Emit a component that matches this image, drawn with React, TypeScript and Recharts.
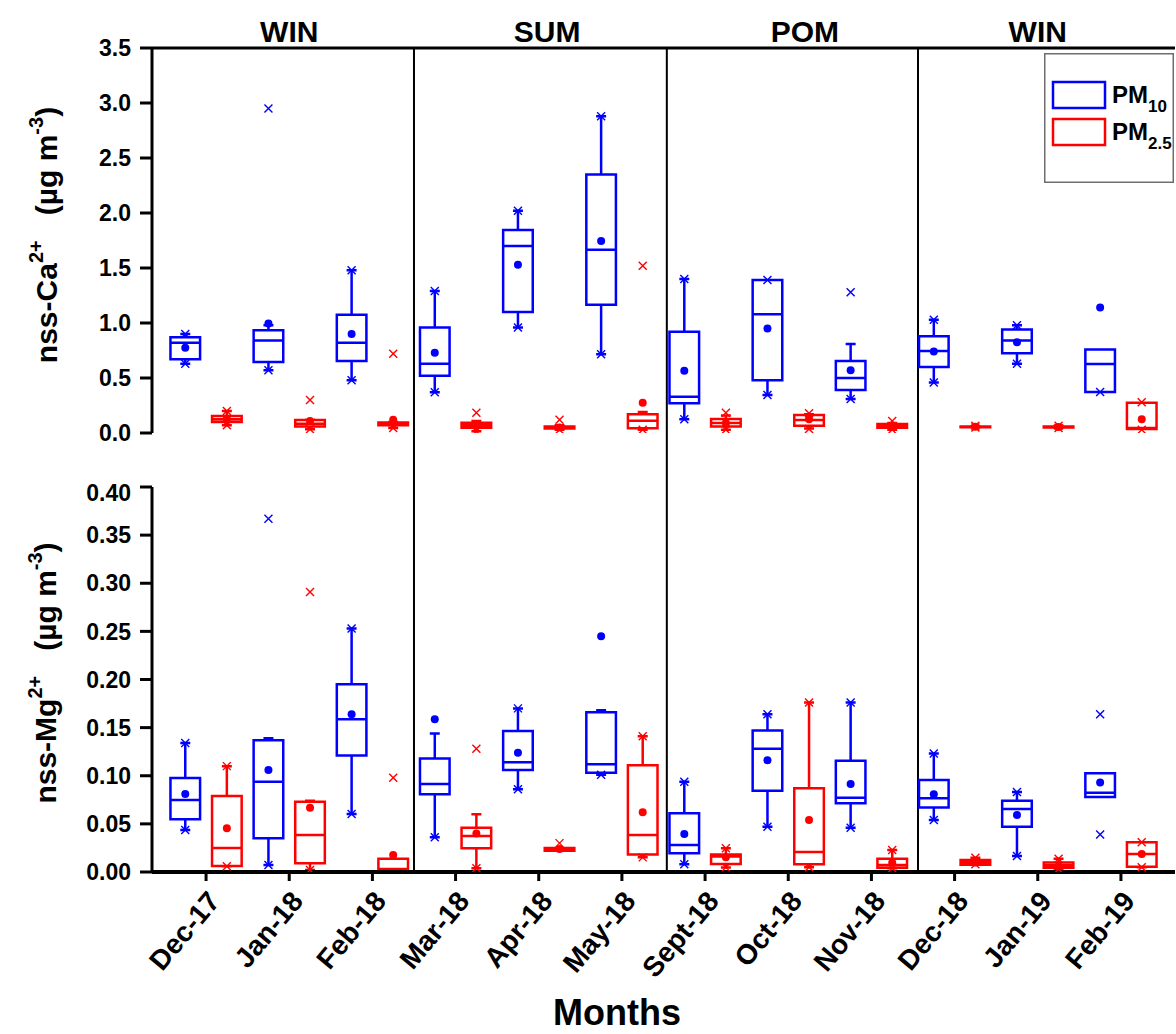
import React from "react";
import { ComposedChart, Line, Scatter, XAxis, YAxis, ReferenceLine, Legend } from "recharts";

const months = ["Dec-17", "Jan-18", "Feb-18", "Mar-18", "Apr-18", "May-18", "Sept-18", "Oct-18", "Nov-18", "Dec-18", "Jan-19", "Feb-19"];
const seasons = ["WIN", "SUM", "POM", "WIN"];
// where the season titles sit, and the borders between seasons (month index units)
const seasonCenters = [1.0, 4.1, 7.2, 10.0];
const seasonBreaks = [2.5, 5.54, 8.56];

// box stats per month: [low whisker, Q1, median, Q3, high whisker]
const caPM10 = [
  [0.63, 0.67, 0.82, 0.87, 0.9], [0.57, 0.645, 0.84, 0.935, 0.98], [0.48, 0.655, 0.82, 1.075, 1.48],
  [0.37, 0.52, 0.63, 0.96, 1.29], [0.96, 1.1, 1.7, 1.845, 2.02], [0.715, 1.165, 1.665, 2.35, 2.88],
  [0.125, 0.27, 0.33, 0.92, 1.4], [0.345, 0.48, 1.08, 1.39, 1.39], [0.31, 0.39, 0.5, 0.655, 0.81],
  [0.46, 0.6, 0.745, 0.88, 1.03], [0.63, 0.725, 0.84, 0.94, 0.98], [0.373, 0.373, 0.627, 0.76, 0.76],
];
const caPM10Mean = [0.775, 0.995, 0.9, 0.73, 1.53, 1.745, 0.565, 0.95, 0.57, 0.74, 0.825, 1.14];
const caPM10Cross = [[0.63, 0.9], [0.57, 2.95], [0.48, 1.48], [0.37, 1.29], [0.96, 2.02], [0.715, 2.88], [0.125, 1.4], [0.345, 1.39], [0.31, 1.28], [0.46, 1.03], [0.63, 0.98], [0.373]];

const caPM25 = [
  [0.07, 0.1, 0.125, 0.155, 0.2], [0.035, 0.058, 0.085, 0.118, 0.12], [0.045, 0.07, 0.08, 0.095, 0.1],
  [0.015, 0.048, 0.07, 0.094, 0.11], [0.03, 0.04, 0.05, 0.06, 0.07], [0.03, 0.043, 0.112, 0.17, 0.19],
  [0.03, 0.058, 0.09, 0.127, 0.16], [0.04, 0.067, 0.118, 0.164, 0.17], [0.03, 0.048, 0.065, 0.082, 0.09],
  [0.05, 0.052, 0.056, 0.06, 0.062], [0.045, 0.05, 0.055, 0.06, 0.065], [0.036, 0.036, 0.045, 0.275, 0.275],
];
const caPM25Mean = [0.13, 0.11, 0.12, 0.07, 0.05, 0.275, 0.09, 0.125, 0.065, 0.056, 0.055, 0.125];
const caPM25Cross = [[0.07, 0.2], [0.035, 0.3], [0.045, 0.72], [0.015, 0.185], [0.03, 0.12], [0.03, 1.52], [0.03, 0.185], [0.036, 0.18], [0.03, 0.11], [0.05, 0.065], [0.045, 0.065], [0.03, 0.28]];

const mgPM10 = [
  [0.0436, 0.0547, 0.0748, 0.0977, 0.134], [0.0073, 0.035, 0.0938, 0.137, 0.139], [0.0603, 0.121, 0.1586, 0.195, 0.253],
  [0.036, 0.0807, 0.0914, 0.118, 0.144], [0.086, 0.106, 0.114, 0.1465, 0.17], [0.101, 0.103, 0.112, 0.166, 0.168],
  [0.008, 0.0194, 0.028, 0.061, 0.0938], [0.047, 0.0845, 0.128, 0.147, 0.164], [0.046, 0.0713, 0.0772, 0.1157, 0.176],
  [0.054, 0.067, 0.0765, 0.0956, 0.123], [0.0166, 0.047, 0.0655, 0.074, 0.083], [0.078, 0.078, 0.0824, 0.1025, 0.1025],
];
const mgPM10Mean = [0.081, 0.106, 0.164, 0.1586, 0.124, 0.245, 0.0395, 0.116, 0.0914, 0.0807, 0.0592, 0.093];
const mgPM10Cross = [[0.0436, 0.134], [0.0073, 0.367], [0.0603, 0.253], [0.036], [0.086, 0.17], [0.101], [0.008, 0.0938], [0.047, 0.164], [0.046, 0.176], [0.054, 0.123], [0.0166, 0.083], [0.039, 0.164]];

const mgPM25 = [
  [0.006, 0.0062, 0.025, 0.079, 0.11], [0.002, 0.009, 0.0384, 0.073, 0.074], [0.002, 0.002, 0.003, 0.0138, 0.0138],
  [0.004, 0.0246, 0.0374, 0.046, 0.06], [0.022, 0.022, 0.0235, 0.025, 0.025], [0.0152, 0.0183, 0.0384, 0.111, 0.141],
  [0.0048, 0.0083, 0.016, 0.0183, 0.0246], [0.005, 0.008, 0.0208, 0.087, 0.176], [0.004, 0.0045, 0.0073, 0.0138, 0.0229],
  [0.0076, 0.0076, 0.01, 0.0125, 0.0149], [0.003, 0.0045, 0.007, 0.01, 0.0138], [0.005, 0.0055, 0.0187, 0.0308, 0.031],
];
const mgPM25Mean = [0.0454, 0.0668, 0.0177, 0.04, 0.024, 0.062, 0.0152, 0.054, 0.0097, 0.01, 0.006, 0.0187];
const mgPM25Cross = [[0.006, 0.11], [0.002, 0.291], [0.098], [0.004, 0.128], [0.03], [0.0152, 0.141], [0.0048, 0.0246], [0.005, 0.176], [0.004, 0.0229], [0.008, 0.0149], [0.003, 0.0138], [0.005, 0.031]];

const caTicks = [0, 0.5, 1, 1.5, 2, 2.5, 3, 3.5];
const mgTicks = [0, 0.05, 0.1, 0.15, 0.2, 0.25, 0.3, 0.35, 0.4];

const BLUE = "#0000ff";
const RED = "#ff0000";
const X_DOMAIN = [-0.65, 11.65];
const PM10_OFFSET = -0.25;
const PM25_OFFSET = 0.25;
const BOX_HALF = 0.178;
const CAP_HALF = 0.045;
const FONT = "'Liberation Sans', Arial, Helvetica, sans-serif";

// outline of all boxes of one series as one broken polyline (nulls split it)
function boxOutline(stats, offset) {
  const pts = [];
  const seg = (...p) => {
    pts.push(...p.map(([x, y]) => ({ x, y })));
    pts.push({ x: p[0][0], y: null });
  };
  stats.forEach(([lo, q1, med, q3, hi], i) => {
    const c = i + offset;
    const l = c - BOX_HALF;
    const r = c + BOX_HALF;
    seg([l, q1], [r, q1], [r, q3], [l, q3], [l, q1]);
    seg([l, med], [r, med]);
    if (lo < q1) {
      seg([c, q1], [c, lo]);
      seg([c - CAP_HALF, lo], [c + CAP_HALF, lo]);
    }
    if (hi > q3) {
      seg([c, q3], [c, hi]);
      seg([c - CAP_HALF, hi], [c + CAP_HALF, hi]);
    }
  });
  return pts;
}

const meanDot = (color) => (props) => <circle cx={props.cx} cy={props.cy} r={4} fill={color} />;

const crossMark = (color) => (props) => {
  const { cx, cy } = props;
  const s = 4;
  return (
    <path
      d={`M${cx - s},${cy - s}L${cx + s},${cy + s}M${cx - s},${cy + s}L${cx + s},${cy - s}`}
      stroke={color}
      strokeWidth={1.4}
      fill="none"
    />
  );
};

function seriesElements(id, stats, means, crosses, offset, color) {
  return [
    <Line
      key={id + "-box"}
      data={boxOutline(stats, offset)}
      dataKey="y"
      type="linear"
      stroke={color}
      strokeWidth={2.5}
      strokeLinecap="square"
      dot={false}
      activeDot={false}
      connectNulls={false}
      legendType="none"
      isAnimationActive={false}
    />,
    <Scatter
      key={id + "-mean"}
      data={means.map((m, i) => ({ x: i + offset, y: m }))}
      shape={meanDot(color)}
      legendType="none"
      isAnimationActive={false}
    />,
    <Scatter
      key={id + "-cross"}
      data={crosses.flatMap((arr, i) => arr.map((v) => ({ x: i + offset, y: v })))}
      shape={crossMark(color)}
      legendType="none"
      isAnimationActive={false}
    />,
  ];
}

const legendItems = [
  { label: "PM", sub: "10", color: BLUE },
  { label: "PM", sub: "2.5", color: RED },
];

const renderLegend = () => (
  <svg width={130} height={130} style={{ display: "block" }}>
    <rect x={0.75} y={0.75} width={128.5} height={128.5} fill="#fff" stroke="#6e6e6e" strokeWidth={1.5} />
    {legendItems.map((it, i) => (
      <g key={i} transform={`translate(0, ${i * 37})`}>
        <rect x={9} y={29} width={52} height={26} fill="none" stroke={it.color} strokeWidth={2.5} />
        <text x={68} y={50} fontSize={24} fontWeight="bold" fill="#000" fontFamily={FONT}>
          {it.label}
          <tspan fontSize={17} dy={9}>{it.sub}</tspan>
        </text>
      </g>
    ))}
  </svg>
);

const seasonLabel = (text) => (props) => {
  const { viewBox } = props;
  return (
    <text x={viewBox.x} y={viewBox.y - 6} textAnchor="middle" fontSize={30} fontWeight="bold" fill="#000" fontFamily={FONT}>
      {text}
    </text>
  );
};

const yTick = { fontSize: 23, fontWeight: "bold", fill: "#000", fontFamily: FONT };
const axisStroke = { stroke: "#000", strokeWidth: 3 };

export default function App() {
  return (
    <div
      style={{
        position: "absolute",
        left: 0,
        top: 0,
        width: 1176,
        height: 1034,
        overflow: "hidden",
        background: "#fff",
        fontFamily: FONT,
      }}
    >
      {/* nss-Ca panel */}
      <div style={{ position: "absolute", left: 0, top: 0 }}>
        <ComposedChart width={1176} height={490} margin={{ top: 48, right: 1, bottom: 57, left: 0 }}>
          <XAxis dataKey="x" type="number" domain={X_DOMAIN} allowDataOverflow hide />
          <YAxis
            dataKey="y"
            type="number"
            domain={[0, 3.5]}
            ticks={caTicks}
            allowDataOverflow
            width={152}
            tickSize={12}
            tickMargin={9}
            tickFormatter={(v) => v.toFixed(1)}
            axisLine={axisStroke}
            tickLine={axisStroke}
            tick={yTick}
          />
          <ReferenceLine y={3.5} stroke="#000" strokeWidth={3} />
          {seasonCenters.map((c, i) => (
            <ReferenceLine key={"s" + i} x={c} stroke="none" label={seasonLabel(seasons[i])} />
          ))}
          {seasonBreaks.map((b) => (
            <ReferenceLine
              key={b}
              segment={[{ x: b, y: -0.49 }, { x: b, y: 3.5 }]}
              ifOverflow="visible"
              stroke="#000"
              strokeWidth={2}
            />
          ))}
          {seriesElements("caPM10", caPM10, caPM10Mean, caPM10Cross, PM10_OFFSET, BLUE)}
          {seriesElements("caPM25", caPM25, caPM25Mean, caPM25Cross, PM25_OFFSET, RED)}
          <Legend
            content={renderLegend}
            layout="horizontal"
            verticalAlign="middle"
            align="center"
            wrapperStyle={{ position: "absolute", left: 1044, top: 53, width: 130, height: 130 }}
          />
        </ComposedChart>
      </div>

      {/* nss-Mg panel */}
      <div style={{ position: "absolute", left: 0, top: 480 }}>
        <ComposedChart width={1176} height={554} margin={{ top: 7, right: 1, bottom: 62, left: 0 }}>
          <XAxis
            dataKey="x"
            type="number"
            domain={X_DOMAIN}
            allowDataOverflow
            ticks={months.map((_, i) => i)}
            tickFormatter={(v) => months[v]}
            interval={0}
            height={100}
            tickSize={9}
            tickMargin={8}
            angle={-50}
            textAnchor="end"
            axisLine={{ stroke: "#000", strokeWidth: 4 }}
            tickLine={axisStroke}
            tick={{ fontSize: 28, fontWeight: "bold", fill: "#000", fontFamily: FONT }}
          />
          <YAxis
            dataKey="y"
            type="number"
            domain={[0, 0.4]}
            ticks={mgTicks}
            allowDataOverflow
            width={152}
            tickSize={12}
            tickMargin={9}
            tickFormatter={(v) => v.toFixed(2)}
            axisLine={axisStroke}
            tickLine={axisStroke}
            tick={yTick}
          />
          {seasonBreaks.map((b) => (
            <ReferenceLine key={b} x={b} stroke="#000" strokeWidth={2} />
          ))}
          {seriesElements("mgPM10", mgPM10, mgPM10Mean, mgPM10Cross, PM10_OFFSET, BLUE)}
          {seriesElements("mgPM25", mgPM25, mgPM25Mean, mgPM25Cross, PM25_OFFSET, RED)}
        </ComposedChart>
      </div>

      {/* axis titles */}
      <svg width={1176} height={1034} style={{ position: "absolute", left: 0, top: 0, pointerEvents: "none" }}>
        <text transform="translate(57,235) rotate(-90)" textAnchor="middle" fontSize={30} fontWeight="bold" fontFamily={FONT} fill="#000">
          nss-Ca
          <tspan fontSize={20} dy={-14}>2+</tspan>
          <tspan dy={14}>{"\u00a0\u00a0\u00a0(µg m"}</tspan>
          <tspan fontSize={20} dy={-14}>-3</tspan>
          <tspan dy={14}>)</tspan>
        </text>
        <text transform="translate(56,673) rotate(-90)" textAnchor="middle" fontSize={30} fontWeight="bold" fontFamily={FONT} fill="#000">
          nss-Mg
          <tspan fontSize={20} dy={-14}>2+</tspan>
          <tspan dy={14}>{"\u00a0\u00a0\u00a0(µg m"}</tspan>
          <tspan fontSize={20} dy={-14}>-3</tspan>
          <tspan dy={14}>)</tspan>
        </text>
        <text x={617} y={1025} textAnchor="middle" fontSize={36} fontWeight="bold" fontFamily={FONT} fill="#000">
          Months
        </text>
      </svg>
    </div>
  );
}
